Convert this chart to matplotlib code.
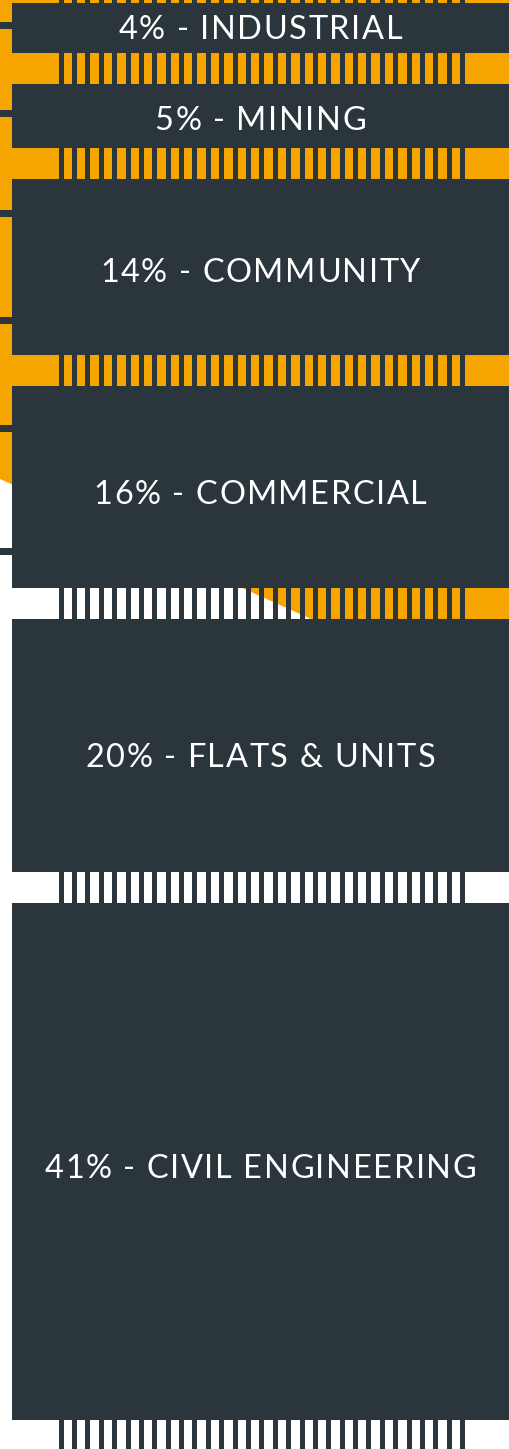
import numpy as np
import matplotlib.pyplot as plt
from matplotlib.patches import Polygon

# sector shares, top to bottom
labels = ['INDUSTRIAL', 'MINING', 'COMMUNITY', 'COMMERCIAL', 'FLATS & UNITS', 'CIVIL ENGINEERING']
shares = [4, 5, 14, 16, 20, 41]

DARK = '#2b353c'
ORANGE = '#f6a400'

W, H = 509, 1449
scale = 12.62      # px per percent
gap = 31           # px between blocks
top0 = 3
x_left = 12
# label sits a little below the block centre in the original
text_nudge = [-1, 2, 3.5, 5, 10, 5]
FS = 23.4
CAP = 23.3         # cap height in px at FS
SPACING = 1.6      # extra letter spacing in px

fig = plt.figure(figsize=(W / 100, H / 100), dpi=100)
ax = fig.add_axes([0, 0, 1, 1])
ax.set_xlim(0, W)
ax.set_ylim(H, 0)
ax.axis('off')

# orange backdrop with the diagonal cut
ax.add_patch(Polygon([(0, -50), (W, -50), (W, 479 + 0.45 * W), (0, 479)],
                     closed=True, facecolor=ORANGE, edgecolor='none', zorder=0))

heights = np.array(shares) * scale
tops = top0 + np.concatenate([[0], np.cumsum(heights)[:-1]]) + np.arange(len(shares)) * gap

# blocks
ax.bar((x_left + W) / 2, heights, bottom=tops, width=W - x_left,
       color=DARK, linewidth=0, zorder=2)

# ticks in every gap (one above the first block, one below the last)
tick_x = 61.2 + np.arange(31) * 13.38
gap_tops = list(tops - gap) + [tops[-1] + heights[-1]]
for gt in gap_tops:
    ax.bar(tick_x, gap, bottom=gt, width=5, color=DARK, linewidth=0, zorder=2)

# little marks on the left edge
for yy in [22, 110, 210, 317, 425, 548]:
    ax.bar(x_left / 2, 7, bottom=yy, width=x_left, color=DARK, linewidth=0, zorder=2)

# letter-spaced labels: place each character, x units are pixels here
fig.canvas.draw()
rend = fig.canvas.get_renderer()
kw = dict(color='white', fontsize=FS, family=['Lato', 'DejaVu Sans'], zorder=3)


def text_width(s):
    t = ax.text(0, 0, s, **kw)
    w = t.get_window_extent(renderer=rend).width
    t.remove()
    return w


ref_w = text_width('H')
for lab, s, t, h, dy in zip(labels, shares, tops, heights, text_nudge):
    txt = f'{s}% - {lab}'
    offs = [0.0] + [text_width(txt[:i] + 'H') - ref_w for i in range(1, len(txt))]
    total = text_width(txt) + SPACING * (len(txt) - 1)
    x0 = (x_left + W) / 2 - total / 2
    ybase = t + h / 2 + dy + CAP / 2
    for i, ch in enumerate(txt):
        if ch == ' ':
            continue
        ax.text(x0 + offs[i] + SPACING * i, ybase, ch, ha='left', va='baseline', **kw)

fig.savefig('out.png', dpi=100)
